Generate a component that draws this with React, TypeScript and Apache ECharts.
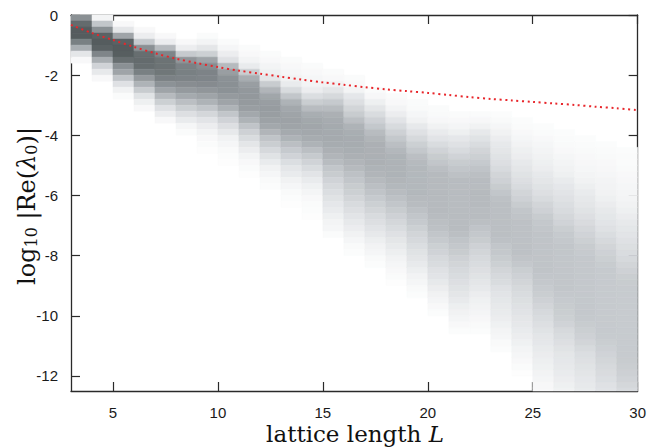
import React, { useEffect, useRef } from "react";
import * as echarts from "echarts";

// ---- data ----
const L_MIN = 3;
const L_MAX = 30;
const BIN = 0.2; // log10 bin height
const Y_MIN = -12.5;
const X_TICKS = [5, 10, 15, 20, 25, 30];
const Y_TICKS = [-12, -10, -8, -6, -4, -2, 0];

// first row index (row k spans -k*BIN .. -(k+1)*BIN) of each column L = 3..29
const COLUMN_START_ROW = [0, 0, 1, 2, 3, 4, 3, 4, 5, 6, 7, 8, 9, 10, 12, 13, 14, 15, 16, 16, 16, 17, 18, 19, 20, 21, 22];

// shading level (0 white .. 9 darkest) of each bin
const col03 = [5.5, 7.5, 8.5, 8.5, 6.3, 4, 1.2, 0.3];
const col04 = [0.5, 3, 5.5, 8, 8.5, 8, 6, 4, 2.3, 1, 0.3];
const col05 = [0.3, 1.2, 4.5, 8, 8.5, 8.3, 7.3, 5.5, 4.5, 3, 1.5, 0.6, 0.2];
const col06 = [0.3, 0.8, 2.8, 5.5, 7.3, 7.5, 7.3, 6.3, 5, 3.8, 2.7, 1.4, 0.7, 0.3];
const col07 = [0.3, 0.8, 3.5, 6, 7, 7, 6.8, 6.2, 5.4, 4.5, 3.5, 2.5, 1.5, 0.8, 0.3];
const col08 = [0.3, 0.8, 2.8, 5.2, 6.2, 6.3, 6.1, 5.6, 5, 4.2, 3.3, 2.5, 1.6, 0.9, 0.4, 0.2];
const col09 = [0.2, 0.5, 1.2, 2.5, 4.5, 5.6, 6.1, 6.0, 5.7, 5.2, 4.5, 3.8, 3.0, 2.1, 1.3, 0.8, 0.5, 0.3, 0.2, 0.1];
const col10 = [0.2, 0.4, 0.8, 1.5, 3.5, 4.8, 5.4, 5.5, 5.4, 5.0, 4.5, 3.8, 3.0, 2.3, 1.6, 1.0, 0.6, 0.4, 0.25, 0.15, 0.1];
const col11 = [0.2, 0.3, 0.5, 0.9, 2.6, 4, 4.8, 5.1, 5.1, 5, 4.8, 4.3, 3.8, 3.1, 2.4, 1.8, 1.2, 0.8, 0.5, 0.3, 0.2, 0.1];
const col12 = [0.2, 0.3, 0.5, 0.7, 1.2, 2.7, 3.7, 4.4, 4.8, 4.9, 4.8, 4.6, 4.3, 3.7, 3.1, 2.6, 2.0, 1.4, 0.9, 0.6, 0.4, 0.25, 0.15];
const col13 = [0.2, 0.3, 0.4, 0.6, 0.9, 1.9, 3.0, 3.8, 4.3, 4.5, 4.6, 4.5, 4.2, 3.8, 3.3, 2.8, 2.3, 1.7, 1.2, 0.9, 0.6, 0.4, 0.25, 0.15, 0.1];
const col14 = [0.2, 0.3, 0.4, 0.5, 0.8, 1.7, 2.6, 3.4, 4.0, 4.3, 4.4, 4.3, 4.1, 3.8, 3.3, 2.8, 2.3, 1.8, 1.3, 0.9, 0.65, 0.45, 0.3, 0.2, 0.15, 0.1];
const col15 = [0.2, 0.3, 0.6, 1.2, 2.0, 2.8, 3.4, 3.9, 4.1, 4.2, 4.2, 4.2, 4.1, 3.9, 3.7, 3.4, 3.0, 2.7, 2.3, 2.0, 1.7, 1.4, 1.1, 0.9, 0.7, 0.5, 0.4, 0.2];
const col16 = [0.2, 0.3, 0.5, 1.1, 1.6, 2.2, 2.7, 3.3, 3.8, 4.0, 4.1, 4.1, 4.0, 3.9, 3.7, 3.5, 3.2, 3.0, 2.7, 2.5, 2.2, 1.9, 1.6, 1.3, 1.0, 0.8, 0.6, 0.4, 0.25, 0.15];
const col17 = [0.2, 0.35, 0.7, 1.2, 1.8, 2.4, 2.9, 3.4, 3.7, 3.9, 3.9, 3.9, 3.9, 3.8, 3.7, 3.5, 3.3, 3.1, 2.8, 2.5, 2.2, 1.9, 1.6, 1.3, 1.0, 0.75, 0.55, 0.4, 0.25, 0.15];
const col18 = [0.2, 0.3, 0.5, 0.8, 1.3, 1.9, 2.4, 2.9, 3.3, 3.6, 3.8, 3.8, 3.8, 3.8, 3.7, 3.6, 3.4, 3.2, 3.0, 2.7, 2.4, 2.1, 1.8, 1.5, 1.2, 0.95, 0.75, 0.55, 0.4, 0.3, 0.2, 0.1];
const col19 = [0.2, 0.25, 0.4, 0.6, 1.0, 1.5, 2.0, 2.5, 2.9, 3.3, 3.5, 3.6, 3.6, 3.6, 3.6, 3.6, 3.5, 3.4, 3.2, 3.0, 2.8, 2.5, 2.2, 2.0, 1.7, 1.4, 1.2, 0.95, 0.75, 0.55, 0.4, 0.25, 0.15];
const col20 = [0.2, 0.25, 0.35, 0.6, 0.9, 1.3, 1.8, 2.3, 2.7, 3.0, 3.3, 3.5, 3.5, 3.5, 3.5, 3.5, 3.5, 3.5, 3.4, 3.3, 3.2, 3.0, 2.8, 2.5, 2.3, 2.0, 1.8, 1.5, 1.3, 1.0, 0.8, 0.6, 0.45, 0.3, 0.15];
const col21 = [0.2, 0.3, 0.45, 0.7, 1.1, 1.5, 1.9, 2.3, 2.7, 3.0, 3.2, 3.4, 3.4, 3.4, 3.4, 3.4, 3.4, 3.4, 3.4, 3.4, 3.3, 3.1, 2.9, 2.7, 2.4, 2.2, 2.0, 1.8, 1.6, 1.4, 1.2, 0.95, 0.75, 0.6, 0.45, 0.3, 0.15];
const col22 = [0.2, 0.35, 0.6, 1.0, 1.4, 1.8, 2.2, 2.5, 2.8, 3.1, 3.3, 3.4, 3.4, 3.5, 3.5, 3.5, 3.4, 3.4, 3.3, 3.1, 2.9, 2.7, 2.4, 2.2, 2.0, 1.8, 1.6, 1.4, 1.2, 1.0, 0.8, 0.65, 0.55, 0.45, 0.35, 0.25, 0.15];
const col23 = [0.15, 0.25, 0.4, 0.6, 0.8, 1.0, 1.2, 1.4, 1.6, 1.9, 2.2, 2.4, 2.7, 3.0, 3.2, 3.3, 3.3, 3.3, 3.3, 3.3, 3.3, 3.2, 3.0, 2.9, 2.7, 2.5, 2.2, 2.0, 1.8, 1.5, 1.3, 1.15, 1.0, 0.9, 0.8, 0.65, 0.5, 0.4, 0.25, 0.15];
const col24 = [0.15, 0.2, 0.3, 0.4, 0.55, 0.7, 0.8, 1.0, 1.2, 1.4, 1.6, 1.9, 2.2, 2.4, 2.7, 3.0, 3.1, 3.2, 3.2, 3.2, 3.2, 3.2, 3.2, 3.1, 2.9, 2.6, 2.4, 2.2, 2.0, 1.8, 1.65, 1.5, 1.35, 1.2, 1.05, 0.9, 0.8, 0.65, 0.5, 0.4, 0.3, 0.2, 0.1];
const col25 = [0.15, 0.2, 0.3, 0.4, 0.5, 0.6, 0.7, 0.8, 1.0, 1.2, 1.4, 1.6, 1.9, 2.2, 2.4, 2.7, 2.9, 3.0, 3.1, 3.1, 3.1, 3.1, 3.1, 3.1, 3.1, 3.0, 2.9, 2.75, 2.6, 2.4, 2.2, 2.0, 1.8, 1.6, 1.4, 1.2, 1.1, 0.95, 0.85, 0.75, 0.65, 0.55, 0.45, 0.35, 0.3];
const col26 = [0.15, 0.2, 0.25, 0.3, 0.4, 0.5, 0.6, 0.7, 0.9, 1.1, 1.3, 1.5, 1.7, 1.9, 2.1, 2.3, 2.6, 2.8, 2.9, 3.0, 3.0, 3.0, 3.0, 3.0, 3.0, 3.0, 3.0, 2.9, 2.8, 2.7, 2.6, 2.5, 2.3, 2.0, 1.8, 1.6, 1.4, 1.2, 1.1, 1.0, 0.9, 0.8, 0.7, 0.6];
const col27 = [0.15, 0.2, 0.25, 0.3, 0.35, 0.4, 0.5, 0.6, 0.75, 0.9, 1.05, 1.2, 1.4, 1.6, 1.85, 2.1, 2.3, 2.5, 2.7, 2.8, 2.9, 2.9, 2.9, 2.9, 2.9, 2.9, 2.9, 2.9, 2.9, 2.9, 2.85, 2.7, 2.55, 2.4, 2.2, 1.95, 1.7, 1.55, 1.4, 1.25, 1.1, 1.0, 0.9];
const col28 = [0.15, 0.2, 0.25, 0.3, 0.35, 0.4, 0.5, 0.55, 0.6, 0.7, 0.85, 1.0, 1.15, 1.3, 1.5, 1.75, 2.0, 2.2, 2.4, 2.55, 2.7, 2.8, 2.8, 2.8, 2.8, 2.8, 2.8, 2.8, 2.8, 2.8, 2.8, 2.8, 2.75, 2.6, 2.45, 2.3, 2.15, 2.0, 1.85, 1.7, 1.5, 1.35];
const col29 = [0.15, 0.2, 0.2, 0.25, 0.3, 0.35, 0.4, 0.45, 0.5, 0.6, 0.7, 0.85, 1.0, 1.15, 1.3, 1.5, 1.65, 1.8, 2.0, 2.2, 2.4, 2.6, 2.7, 2.75, 2.75, 2.75, 2.75, 2.75, 2.75, 2.75, 2.75, 2.75, 2.75, 2.75, 2.75, 2.7, 2.6, 2.45, 2.3, 2.1, 1.9];

const COLUMNS = [col03, col04, col05, col06, col07, col08, col09, col10, col11, col12, col13, col14, col15, col16, col17, col18, col19, col20, col21, col22, col23, col24, col25, col26, col27, col28, col29];

// red dotted curve
const CURVE_L = [3, 4, 5, 6, 7, 8, 9, 10, 11, 12, 13, 14, 15, 16, 17, 18, 19, 20, 21, 22, 23, 24, 25, 26, 27, 28, 29, 30];
const CURVE_LOG = [-0.33, -0.6, -0.83, -1.06, -1.27, -1.45, -1.6, -1.73, -1.85, -1.95, -2.05, -2.15, -2.24, -2.32, -2.4, -2.47, -2.53, -2.59, -2.66, -2.73, -2.79, -2.84, -2.89, -2.94, -2.99, -3.05, -3.1, -3.16];

// ---- styling helpers ----
const STOPS = ["#ffffff", "#e7e9eb", "#d6d9dc", "#c2c6ca", "#a9aeb2", "#959a9e", "#7f8589", "#6c7375", "#5b6264", "#4e5557"];
function hexToRgb(h: string) {
  return [parseInt(h.slice(1, 3), 16), parseInt(h.slice(3, 5), 16), parseInt(h.slice(5, 7), 16)];
}
function shade(v: number) {
  const c = Math.max(0, Math.min(9, v));
  const i = Math.min(8, Math.floor(c));
  const t = c - i;
  const a = hexToRgb(STOPS[i]);
  const b = hexToRgb(STOPS[i + 1]);
  const m = a.map((x, k) => Math.round(x + (b[k] - x) * t));
  return `rgb(${m[0]},${m[1]},${m[2]})`;
}

const cells: number[][] = [];
COLUMNS.forEach((col, ci) => {
  const x0 = L_MIN + ci;
  col.forEach((v, j) => {
    const r = COLUMN_START_ROW[ci] + j;
    cells.push([x0 + 0.5, -(r + 0.5) * BIN, v]);
  });
});

const AXIS_COLOR = "#2a2a2a";
const TICK_FONT = "'Liberation Sans', Arial, sans-serif";
const SERIF = "'DejaVu Serif', 'Liberation Serif', serif";

export default function App() {
  const ref = useRef<HTMLDivElement>(null);
  useEffect(() => {
    if (!ref.current) return;
    const chart = echarts.init(ref.current, null, { renderer: "svg" });
    const axisLine = { show: true, onZero: false, lineStyle: { color: AXIS_COLOR, width: 1.3 } };
    const tick = { show: true, inside: true, length: 9, lineStyle: { color: AXIS_COLOR, width: 1.2 } };
    chart.setOption({
      animation: false,
      backgroundColor: "#ffffff",
      grid: { left: 71, right: 11, top: 15, bottom: 57 },
      xAxis: [
        {
          type: "value", min: L_MIN, max: L_MAX, position: "bottom",
          axisLine, axisTick: { ...tick, customValues: X_TICKS },
          axisLabel: { customValues: X_TICKS, color: "#1a1a1a", fontSize: 15, lineHeight: 15, fontFamily: TICK_FONT, margin: 14 },
          splitLine: { show: false },
        },
        {
          type: "value", min: L_MIN, max: L_MAX, position: "top",
          axisLine, axisTick: { ...tick, customValues: X_TICKS },
          axisLabel: { show: false }, splitLine: { show: false },
        },
      ],
      yAxis: [
        {
          type: "value", min: Y_MIN, max: 0, position: "left",
          axisLine, axisTick: { ...tick, customValues: Y_TICKS },
          axisLabel: { customValues: Y_TICKS, color: "#1a1a1a", fontSize: 15, fontFamily: TICK_FONT, margin: 13 },
          splitLine: { show: false },
        },
        {
          type: "value", min: Y_MIN, max: 0, position: "right",
          axisLine, axisTick: { ...tick, customValues: Y_TICKS },
          axisLabel: { show: false }, splitLine: { show: false },
        },
      ],
      series: [
        {
          type: "custom",
          xAxisIndex: 0, yAxisIndex: 0,
          data: cells,
          encode: { x: 0, y: 1 },
          z: 1,
          renderItem: (params: any, api: any) => {
            const xc = api.value(0);
            const yc = api.value(1);
            const v = api.value(2);
            if (v < 0.05) return null;
            const a = api.coord([xc - 0.5, yc + BIN / 2]);
            const b = api.coord([xc + 0.5, yc - BIN / 2]);
            const cs = params.coordSys;
            const top = Math.max(a[1], cs.y);
            const bottom = Math.min(b[1], cs.y + cs.height);
            if (bottom <= top) return null;
            const c = shade(v);
            return {
              type: "rect",
              shape: { x: a[0], y: top, width: b[0] - a[0], height: bottom - top },
              style: { fill: c, stroke: c, lineWidth: 0.5 },
            };
          },
        },
        {
          type: "line",
          xAxisIndex: 0, yAxisIndex: 0,
          data: CURVE_L.map((l, i) => [l, CURVE_LOG[i]]),
          smooth: 0.3,
          showSymbol: false,
          z: 5,
          lineStyle: { color: "#e8262b", width: 2, type: [2, 3.6] },
        },
      ],
      graphic: [
        {
          type: "text",
          x: 27, y: 206, rotation: Math.PI / 2,
          style: {
            text: "{a|log}{s|10}{a| |Re(}{i|λ}{s|0}{a|)|}",
            align: "center", verticalAlign: "middle",
            fill: "#111",
            rich: {
              a: { fontFamily: SERIF, fontSize: 24, fill: "#111" },
              i: { fontFamily: SERIF, fontSize: 24, fontStyle: "italic", fill: "#111" },
              s: { fontFamily: SERIF, fontSize: 16, fill: "#111", verticalAlign: "bottom" },
            },
          },
        },
        {
          type: "text",
          x: 355, y: 434,
          style: {
            text: "{a|lattice length }{i|L}",
            align: "center", verticalAlign: "middle",
            rich: {
              a: { fontFamily: SERIF, fontSize: 23, lineHeight: 22, fill: "#111" },
              i: { fontFamily: SERIF, fontSize: 23, lineHeight: 22, fontStyle: "italic", fill: "#111" },
            },
          },
        },
      ],
    });
    return () => chart.dispose();
  }, []);
  return (
    <div
      ref={ref}
      style={{ position: "fixed", left: 0, top: 0, width: 649, height: 448, background: "#fff" }}
    />
  );
}
